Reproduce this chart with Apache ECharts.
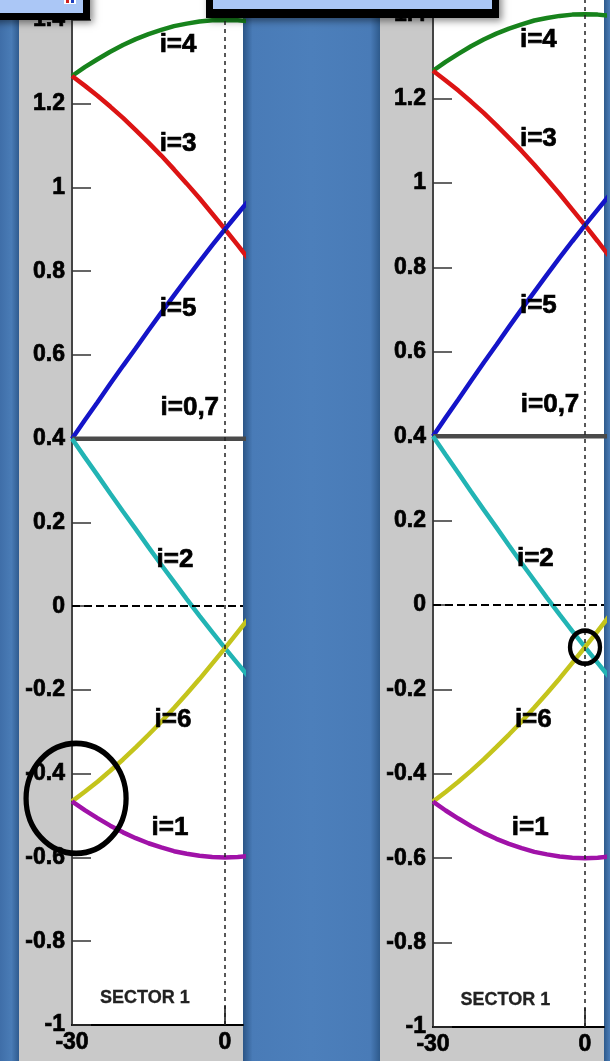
<!DOCTYPE html>
<html>
<head>
<meta charset="utf-8">
<script src="https://cdn.jsdelivr.net/npm/echarts@6/dist/echarts.min.js"></script>
<style>
html,body{margin:0;padding:0;background:#4a7cb6;}
#c{width:610px;height:1061px;}
</style>
</head>
<body>
<div id="c"></div>
<script>
// ---- data (angle in degrees, normalised voltage) ----
const angles = [-30, -27.5, -25, -22.5, -20, -17.5, -15, -12.5, -10, -7.5, -5, -2.5, 0, 2.5, 5];
const vI4  = [1.266, 1.287, 1.306, 1.324, 1.340, 1.354, 1.366, 1.376, 1.385, 1.391, 1.396, 1.399, 1.400, 1.399, 1.396];
const vI3  = [1.266, 1.243, 1.219, 1.193, 1.166, 1.137, 1.107, 1.076, 1.043, 1.009, 0.974, 0.937, 0.900, 0.862, 0.823];
const vI5  = [0.400, 0.444, 0.487, 0.531, 0.574, 0.616, 0.659, 0.701, 0.742, 0.783, 0.823, 0.862, 0.900, 0.937, 0.974];
const vI07 = [0.400, 0.400, 0.400, 0.400, 0.400, 0.400, 0.400, 0.400, 0.400, 0.400, 0.400, 0.400, 0.400, 0.400, 0.400];
const vI2  = [0.400, 0.356, 0.313, 0.269, 0.226, 0.184, 0.141, 0.099, 0.058, 0.017, -0.023, -0.062, -0.100, -0.137, -0.174];
const vI6  = [-0.466, -0.443, -0.419, -0.393, -0.366, -0.337, -0.307, -0.276, -0.243, -0.209, -0.174, -0.137, -0.100, -0.062, -0.023];
const vI1  = [-0.466, -0.487, -0.506, -0.524, -0.540, -0.554, -0.566, -0.576, -0.585, -0.591, -0.596, -0.599, -0.600, -0.599, -0.596];

const seriesNames = ['i=4', 'i=3', 'i=5', 'i=0,7', 'i=2', 'i=6', 'i=1'];
const seriesValues = [vI4, vI3, vI5, vI07, vI2, vI6, vI1];
const seriesColors = ['#17831c', '#dc1414', '#1414c8', '#4a4a4a', '#22b4b4', '#c4c41c', '#a012a8'];

// in-plot label positions (data coordinates)
const labelX = [-9.2, -9.2, -9.2, -6.9, -9.8, -10.2, -10.8];
const labelY = [1.34, 1.105, 0.71, 0.474, 0.11, -0.272, -0.529];
const sectorText = 'SECTOR 1';
const sectorPos = [-15.7, -0.936];

const xTickLabels = [-30, 0];
const xTickMarks = [0];

// annotation circles: [x, y] per panel
const circleLeft = [-29.2, -0.459];
const circleRight = [0, -0.1];

const FONT = 'Liberation Sans, Arial, sans-serif';
const heavy = {fontWeight: 'bold', color: '#000', fontFamily: FONT, textBorderColor: '#000', textBorderWidth: 0.7};

const panels = [
  {left: 72, top: -22, width: 171, height: 1047, xMax: 3.53, circle: circleLeft, circleSize: [100, 110], circleBorder: 5.5},
  {left: 433, top: -28, width: 171, height: 1055, xMax: 3.75, circle: circleRight, circleSize: [30, 33], circleBorder: 4.5}
];

const grid = [], xAxis = [], yAxis = [], series = [];
panels.forEach((p, g) => {
  grid.push({left: p.left, top: p.top, width: p.width, height: p.height, show: true,
    backgroundColor: '#ffffff', borderWidth: 0, borderColor: 'transparent', containLabel: false, outerBoundsMode: 'none'});
  xAxis.push({
    type: 'value', gridIndex: g, min: -30, max: p.xMax, interval: 30,
    axisLine: {show: true, onZero: false, lineStyle: {color: '#000', width: 2}},
    axisTick: {show: true, inside: true, length: 19, customValues: xTickMarks, lineStyle: {color: '#111', width: 1.5}},
    axisLabel: Object.assign({show: true, customValues: xTickLabels, fontSize: 23, margin: 6,
      formatter: v => (xTickLabels.indexOf(Math.round(v * 1000) / 1000) >= 0 ? String(Math.round(v)) : '')}, heavy),
    splitLine: {show: false}
  });
  yAxis.push({
    type: 'value', gridIndex: g, min: -1, max: 1.5, interval: 0.2,
    axisLine: {show: true, onZero: false, lineStyle: {color: '#444', width: 2}},
    axisTick: {show: true, inside: true, length: 19, lineStyle: {color: '#333', width: 1.5}},
    axisLabel: Object.assign({show: true, fontSize: 23, margin: 7,
      formatter: v => (Math.abs(v - 1.5) < 1e-6 ? '' : String(Math.round(v * 10) / 10))}, heavy),
    splitLine: {show: false}
  });
  // dashed reference lines
  series.push({
    type: 'line', xAxisIndex: g, yAxisIndex: g, data: [], silent: true, z: 2,
    markLine: {
      silent: true, symbol: ['none', 'none'], label: {show: false}, animation: false,
      data: [
        {yAxis: 0, lineStyle: {type: [8, 4], width: 2, color: '#000'}},
        {xAxis: 0, lineStyle: {type: [4, 4], width: 1.5, color: '#222'}}
      ]
    }
  });
  seriesValues.forEach((vals, k) => {
    series.push({
      name: seriesNames[k] + '_' + g, type: 'line', xAxisIndex: g, yAxisIndex: g,
      data: angles.map((a, j) => [a, vals[j]]),
      showSymbol: false, symbol: 'none', smooth: false, clip: true, silent: true, z: 3,
      lineStyle: {width: 4.5, color: seriesColors[k], opacity: 1}, itemStyle: {color: seriesColors[k]}
    });
  });
  // labels
  series.push({
    type: 'scatter', xAxisIndex: g, yAxisIndex: g, silent: true, z: 5, clip: false,
    symbolSize: 1, itemStyle: {color: 'rgba(0,0,0,0)', opacity: 1},
    label: Object.assign({show: true, position: 'inside', fontSize: 26, opacity: 1}, heavy),
    data: labelX.map((x, k) => ({value: [x, labelY[k]], label: {formatter: seriesNames[k]}}))
      .concat([{value: sectorPos, label: {formatter: sectorText, fontSize: 18, color: '#222', textBorderColor: '#222', textBorderWidth: 0.3}}])
  });
  // annotation circle
  series.push({
    type: 'scatter', xAxisIndex: g, yAxisIndex: g, silent: true, z: 6, clip: false,
    symbol: 'circle', symbolSize: p.circleSize,
    itemStyle: {color: 'rgba(0,0,0,0)', borderColor: '#000', borderWidth: p.circleBorder, opacity: 1},
    data: [p.circle]
  });
});

function hGrad(stops) {
  return {type: 'linear', x: 0, y: 0, x2: 1, y2: 0, colorStops: stops};
}
const GREY = '#c9c9c9';
const graphic = {elements: [
  {type: 'rect', z: -5, silent: true, shape: {x: 0, y: 0, width: 19, height: 1061},
    style: {fill: hGrad([{offset: 0, color: '#3f6ea8'}, {offset: 0.6, color: '#4a7cb6'}, {offset: 1, color: '#2f5b8f'}])}},
  {type: 'rect', z: -5, silent: true, shape: {x: 19, y: 0, width: 53, height: 1061}, style: {fill: GREY}},
  {type: 'rect', z: -5, silent: true, shape: {x: 72, y: 1025, width: 171, height: 36}, style: {fill: GREY}},
  {type: 'rect', z: -5, silent: true, shape: {x: 243, y: 0, width: 137, height: 1061},
    style: {fill: hGrad([{offset: 0, color: '#2b5586'}, {offset: 0.07, color: '#497bb7'}, {offset: 0.5, color: '#4c7fbb'}, {offset: 0.93, color: '#497bb7'}, {offset: 1, color: '#2e5a8c'}])}},
  {type: 'rect', z: -5, silent: true, shape: {x: 380, y: 0, width: 53, height: 1061}, style: {fill: GREY}},
  {type: 'rect', z: -5, silent: true, shape: {x: 433, y: 1027, width: 171, height: 34}, style: {fill: GREY}},
  {type: 'rect', z: -5, silent: true, shape: {x: 604, y: 0, width: 6, height: 1061},
    style: {fill: hGrad([{offset: 0, color: '#2e5a8c'}, {offset: 1, color: '#4a7cb6'}])}},
  // title boxes on top
  {type: 'rect', z: 100, silent: true, shape: {x: -10, y: -10, width: 100, height: 30},
    style: {fill: '#000', shadowBlur: 7, shadowColor: 'rgba(0,0,0,0.45)', shadowOffsetX: 3, shadowOffsetY: 3}},
  {type: 'rect', z: 101, silent: true, shape: {x: -10, y: -10, width: 93, height: 23}, style: {fill: '#abc7f6'}},
  {type: 'rect', z: 102, silent: true, shape: {x: 64, y: 0, width: 12, height: 4}, style: {fill: '#ffffff'}},
  {type: 'rect', z: 103, silent: true, shape: {x: 66, y: 0, width: 3, height: 3}, style: {fill: '#d02020'}},
  {type: 'rect', z: 103, silent: true, shape: {x: 71, y: 0, width: 3, height: 3}, style: {fill: '#2040c0'}},
  {type: 'rect', z: 100, silent: true, shape: {x: 206, y: -10, width: 293, height: 28},
    style: {fill: '#000', shadowBlur: 7, shadowColor: 'rgba(0,0,0,0.45)', shadowOffsetX: 3, shadowOffsetY: 3}},
  {type: 'rect', z: 101, silent: true, shape: {x: 213, y: -10, width: 279, height: 19}, style: {fill: '#abc7f6'}}
]};

const chart = echarts.init(document.getElementById('c'), null, {renderer: 'canvas'});
chart.setOption({
  animation: false,
  backgroundColor: '#4a7cb6',
  grid, xAxis, yAxis, series, graphic,
  tooltip: {show: false}, legend: {show: false}
});
</script>
</body>
</html>
